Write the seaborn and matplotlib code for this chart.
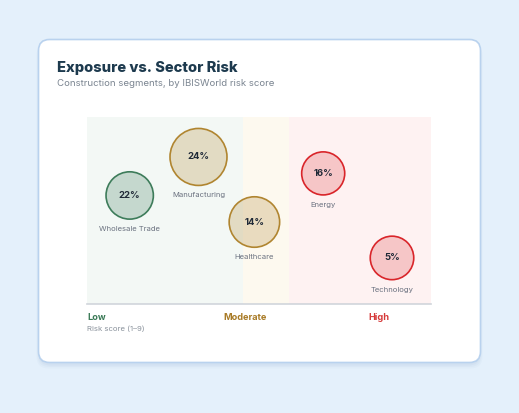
import numpy as np
import pandas as pd
import matplotlib
matplotlib.use("Agg")
import matplotlib.pyplot as plt
from matplotlib.patches import FancyBboxPatch
from matplotlib.colors import to_rgba
import seaborn as sns

# ---- data ----
segments = ["Wholesale Trade", "Manufacturing", "Healthcare", "Energy", "Technology"]
risk_score = [2.0, 3.6, 4.9, 6.5, 8.1]
placement = [58.2, 78.8, 44.0, 70.0, 24.8]
exposure = [22, 24, 14, 16, 5]
weight = [6.0, 8.6, 6.8, 5.0, 5.1]
risk_level = ["Low", "Moderate", "Moderate", "High", "High"]
band_levels = ["Low", "Moderate", "High"]
band_edges = [1.0, 4.64, 5.70, 9.0]

W, H, DPI = 519, 413, 100
sns.set_theme(style="white")
plt.rcParams["font.family"] = ["Inter", "DejaVu Sans"]

level_color = {"Low": "#3d7c5a", "Moderate": "#b08530", "High": "#d9252a"}
fill_alpha = {"Low": 0.25, "Moderate": 0.25, "High": 0.21}
band_color = {"Low": "#f3f8f5", "Moderate": "#fdf9ef", "High": "#fef2f2"}
label_color = {"Low": "#3b7a57", "Moderate": "#a87a25", "High": "#d63a3a"}

fig = plt.figure(figsize=(W / DPI, H / DPI), dpi=DPI)
fig.patch.set_facecolor("#e4f0fb")

# card shadow + card
for i, a in enumerate([0.05, 0.04, 0.03]):
    sh = FancyBboxPatch((38.5 - i, 413 - 362.5 - 3 - i * 1.5), 442 + 2 * i, 323 + i,
                        boxstyle="round,pad=0,rounding_size=12", transform=None,
                        facecolor=(0.35, 0.5, 0.7, a), edgecolor="none", zorder=0)
    fig.patches.append(sh)
card = FancyBboxPatch((38.5, 413 - 362.5), 442, 323,
                      boxstyle="round,pad=0,rounding_size=11", transform=None,
                      facecolor="white", edgecolor="#b9d2ee", linewidth=1.2, zorder=1)
fig.patches.append(card)

ax = fig.add_axes([86.7 / W, (H - 304.3) / H, 344 / W, 187 / H])
ax.set_zorder(5)
ax.set_facecolor("none")
ax.set_xlim(band_edges[0], band_edges[-1])
ax.set_ylim(0, 100)

for lvl, x0, x1 in zip(band_levels, band_edges[:-1], band_edges[1:]):
    ax.axvspan(x0, x1, color=band_color[lvl], zorder=0, lw=0)

df = pd.DataFrame({"segment": segments, "risk": risk_score, "y": placement,
                   "exposure": exposure, "weight": weight, "level": risk_level})

lw_pt = 1.2
def radius_px(w):
    return np.sqrt(w) * 10.0

sizes = {}
for s, w in zip(segments, weight):
    r = radius_px(w) - lw_pt * DPI / 72 / 2
    sizes[s] = (2 * r * 72 / DPI) ** 2

sns.scatterplot(data=df, x="risk", y="y", hue="segment",
                palette={s: level_color[l] for s, l in zip(segments, risk_level)},
                size="segment", sizes=sizes, legend=False, ax=ax,
                linewidth=lw_pt, zorder=3)
coll = ax.collections[-1]
coll.set_facecolor([to_rgba(level_color[l], fill_alpha[l]) for l in risk_level])
coll.set_edgecolor([to_rgba(level_color[l], 1.0) for l in risk_level])

for s, x, y, e, w in zip(segments, risk_score, placement, exposure, weight):
    ax.text(x, y, f"{e}%", ha="center", va="center", fontsize=6.8,
            fontweight="bold", color="#1f2937", zorder=5)
    off = (radius_px(w) + 9) * 72 / DPI
    ax.annotate(s, (x, y), xytext=(0, -off), textcoords="offset points",
                ha="center", va="center", fontsize=5.5, color="#6b7280", zorder=5)

ax.set_xticks([])
ax.set_yticks([])
for sp in ["top", "left", "right"]:
    ax.spines[sp].set_visible(False)
ax.spines["bottom"].set_color("#d1d5db")
ax.spines["bottom"].set_linewidth(1.2)
ax.set_xlabel("")
ax.set_ylabel("")

def fx(px):
    return px / W

def fy(py):
    return (H - py) / H

fig.text(fx(57.3), fy(72.3), "Exposure vs. Sector Risk", fontsize=10.6,
         fontweight="heavy", color="#1d3a4e", va="baseline", ha="left", zorder=6)
fig.text(fx(57.3), fy(86.5), "Construction segments, by IBISWorld risk score",
         fontsize=6.95, color="#7b8591", va="baseline", ha="left", zorder=6)

fig.text(fx(87), fy(320), "Low", fontsize=6.6, fontweight="bold",
         color=label_color["Low"], va="baseline", ha="left", zorder=6)
fig.text(fx(245), fy(320), "Moderate", fontsize=6.6, fontweight="bold",
         color=label_color["Moderate"], va="baseline", ha="center", zorder=6)
fig.text(fx(379), fy(320), "High", fontsize=6.6, fontweight="bold",
         color=label_color["High"], va="baseline", ha="center", zorder=6)
fig.text(fx(87), fy(331.5), "Risk score (1\u20139)", fontsize=5.6,
         color="#8a929c", va="baseline", ha="left", zorder=6)

fig.savefig("out.png", dpi=DPI, facecolor=fig.get_facecolor())
